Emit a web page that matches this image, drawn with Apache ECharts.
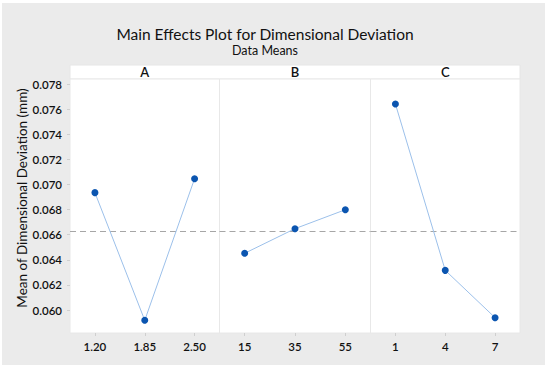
<!DOCTYPE html>
<html><head><meta charset="utf-8">
<script src="https://cdn.jsdelivr.net/npm/echarts@6/dist/echarts.min.js"></script>
<style>html,body{margin:0;padding:0;background:#fff}#c{width:550px;height:369px}</style>
</head><body><div id="c"></div>
<script>
const factors = ['A', 'B', 'C'];
const levelsA = ['1.20', '1.85', '2.50'];
const levelsB = ['15', '35', '55'];
const levelsC = ['1', '4', '7'];
const meansA = [0.06935, 0.05918, 0.07046];
const meansB = [0.06452, 0.06648, 0.06799];
const meansC = [0.07641, 0.06316, 0.05939];
const grandMean = 0.06626;
const yTicks = [0.060, 0.062, 0.064, 0.066, 0.068, 0.070, 0.072, 0.074, 0.076, 0.078];

const levels = [levelsA, levelsB, levelsC];
const means = [meansA, meansB, meansC];
const FONT = 'Lato, "Open Sans", sans-serif';
const panelLeft = [70, 219.5, 370.5];
const panelWidth = [149.5, 151, 149.5];
const plotTop = 79, plotH = 254;
const yMin = 0.05817, yMax = 0.0784;

const grids = [], xAxes = [], yAxes = [], series = [], graphics = [];
graphics.push({type:'rect', z:-10, shape:{x:2, y:3, width:543, height:362}, style:{fill:'#ebebeb'}, silent:true});
graphics.push({type:'rect', z:-9, shape:{x:70, y:65, width:450, height:14}, style:{fill:'#ffffff', stroke:'#e6e6e6', lineWidth:1}, silent:true});
for (let i = 0; i < 3; i++) {
  grids.push({left: panelLeft[i], top: plotTop, width: panelWidth[i], height: plotH, show: true, backgroundColor:'#ffffff', borderColor:'#e8e8e8', borderWidth:1});
  xAxes.push({type:'category', gridIndex:i, data: levels[i], boundaryGap:true,
    axisLine:{show:false}, splitLine:{show:false},
    axisTick:{show:true, alignWithLabel:true, length:3, lineStyle:{color:'#cfcfcf'}},
    axisLabel:{color:'#111', fontSize:11.5, fontWeight:600, fontFamily:FONT, margin:7}});
  yAxes.push({type:'value', gridIndex:i, min:yMin, max:yMax, interval:0.002,
    axisLine:{show:false}, splitLine:{show:false},
    axisTick:{show:i===0, length:3, customValues: yTicks, lineStyle:{color:'#cfcfcf'}},
    axisLabel:{show:i===0, color:'#111', fontSize:11.5, fontWeight:600, fontFamily:FONT, margin:8,
      customValues: yTicks, formatter: v => v.toFixed(3)},
    name: i===0 ? 'Mean of Dimensional Deviation (mm)' : '', nameLocation:'middle', nameGap:38,
    nameTextStyle:{color:'#111', fontSize:13.5, fontFamily:FONT, padding:[0,0,0,16]}});
  series.push({type:'line', xAxisIndex:i, yAxisIndex:i, data: means[i],
    symbol:'circle', symbolSize:7, itemStyle:{color:'#0b55b0'},
    lineStyle:{color:'#9cc0ea', width:1}, z:5,
    markLine:{silent:true, symbol:'none', precision:6, label:{show:false},
      lineStyle:{color:'#a6a6a6', type:[6,4], width:1}, data:[{yAxis: grandMean}]}});
  graphics.push({type:'text', z:10, style:{text: factors[i], x: panelLeft[i] + panelWidth[i]/2, y: 72, textAlign:'center', textVerticalAlign:'middle', fill:'#111', font:'600 13px ' + FONT}});
}
const chart = echarts.init(document.getElementById('c'), null, {renderer:'svg'});
chart.setOption({
  animation:false,
  title:[{text:'Main Effects Plot for Dimensional Deviation', left:260, top:21, textAlign:'center',
    textStyle:{fontSize:15.5, fontWeight:'normal', color:'#111', fontFamily:FONT}},
    {text:'Data Means', left:260, top:39, textAlign:'center',
    textStyle:{fontSize:12.5, fontWeight:'normal', color:'#111', fontFamily:FONT}}],
  grid: grids, xAxis: xAxes, yAxis: yAxes, series: series, graphic: graphics
});
</script></body></html>
